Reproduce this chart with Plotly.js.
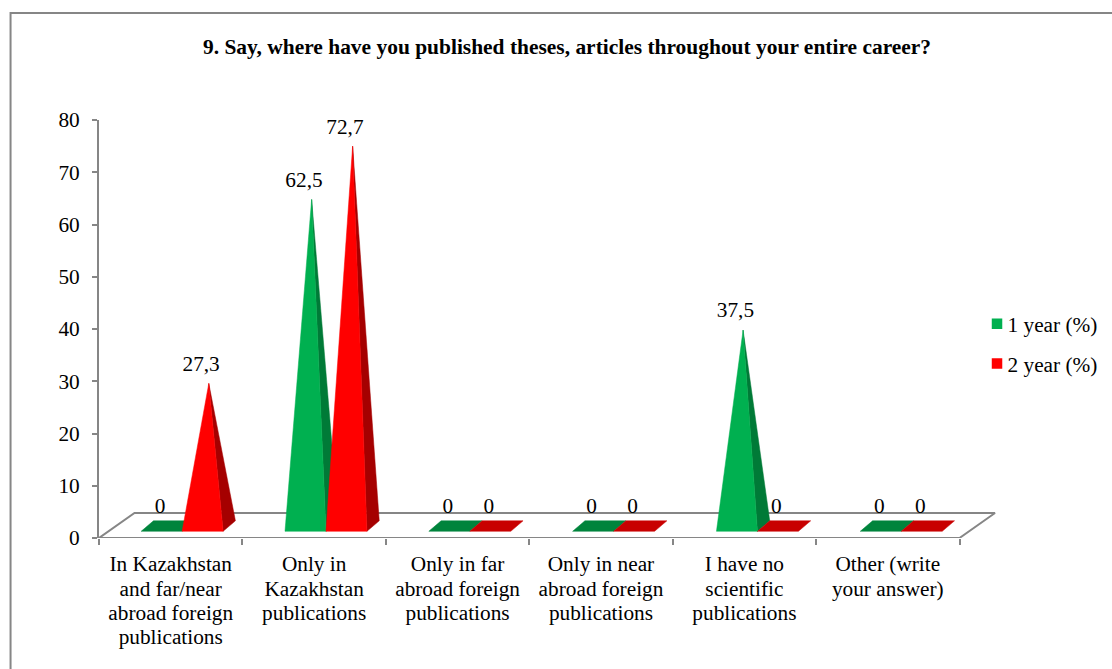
<!DOCTYPE html>
<html><head><meta charset="utf-8">
<script src="https://cdn.plot.ly/plotly-3.0.1.min.js"></script>
<style>html,body{margin:0;padding:0;background:#fff}#c{width:1112px;height:669px}</style>
</head><body><div id="c"></div>
<script>
const titleText = "9. Say, where have you published theses, articles throughout your entire career?";
const categories = ["In Kazakhstan<br>and far/near<br>abroad foreign<br>publications","Only in<br>Kazakhstan<br>publications","Only in far<br>abroad foreign<br>publications","Only in near<br>abroad foreign<br>publications","I have no<br>scientific<br>publications","Other (write<br>your answer)"];
const year1 = [0, 62.5, 0, 0, 37.5, 0];
const year2 = [27.3, 72.7, 0, 0, 0, 0];
const seriesNames = ["1 year (%)", "2 year (%)"];
const yTicks = [0,10,20,30,40,50,60,70,80];
const AXIS = "#868686", FONT = "Liberation Serif", FS = 21.3;
// pixel scale of the plot: one category and one y unit
const UX = 143.5, UY = 5.225, L = 98.5, T = 120, B = 538, R = 1000;
const sx = p => p/UX, sy = p => p/UY;
const W = R-L;
const paperX = px => (px-L)/W, paperY = py => (B-py)/(B-T);
const groupStep = sx(143.9), groupOff = sx(42.2), bw = sx(41), frontY = sy(6.7), bdx = sx(12.3), bdy = sy(10.5);
const floorDX = sx(35.5), floorDY = sy(25);

const palette = [
  {front:"#00B050", side:"#007A37", flat:"#00843C"},
  {front:"#FF0000", side:"#A50000", flat:"#C80000"}
];
const traces = [];
const n = categories.length;
// floor
traces.push({x:[0,n,n+floorDX,floorDX,0], y:[0,0,floorDY,floorDY,0], mode:"lines",
  line:{color:AXIS,width:2}, hoverinfo:"skip", showlegend:false, cliponaxis:false});
function poly(xs,ys,color){
  traces.push({x:xs.concat(xs[0]), y:ys.concat(ys[0]), mode:"lines", fill:"toself", fillcolor:color,
    line:{color:color,width:0.5}, hoverinfo:"skip", showlegend:false, cliponaxis:false});
}
[year1,year2].forEach((vals,s)=>{
  vals.forEach((v,i)=>{
    const x0=i*groupStep+groupOff+s*bw, x1=x0+bw;
    const c=palette[s];
    if(v===0){
      poly([x0,x1,x1+bdx,x0+bdx],[frontY,frontY,frontY+bdy,frontY+bdy],c.flat);
    }else{
      const ax=(x0+x1+bdx)/2, ay=v+frontY+bdy/2;
      poly([x1,x1+bdx,ax],[frontY,frontY+bdy,ay],c.side);
      poly([x0,x1,ax],[frontY,frontY,ay],c.front);
    }
  });
});
// value labels
[year1,year2].forEach((vals,s)=>{
  traces.push({
    x:vals.map((v,i)=>i*groupStep+groupOff+s*bw+bw/2-sx(1.5)),
    y:vals.map(v=>v+frontY+bdy/2+sy(18)),
    text:vals.map(v=>String(v).replace(".",",")),
    mode:"text", textposition:"middle center",
    textfont:{family:FONT,size:FS,color:"#000"},
    hoverinfo:"skip", showlegend:false, cliponaxis:false
  });
});
// legend entries
seriesNames.forEach((nm,s)=>{
  traces.push({x:[null],y:[null],mode:"markers",name:nm,legendgroup:"g"+s,
    marker:{symbol:"square",size:10.5,color:palette[s].front}});
});
const layout = {
  width:1112,height:669,
  margin:{l:L,r:1112-R,t:T,b:669-B,pad:0,autoexpand:false},
  paper_bgcolor:"#fff",plot_bgcolor:"rgba(0,0,0,0)",
  title:{text:"<b>"+titleText+"</b>",font:{family:FONT,size:21.45,color:"#000"},x:567/1112,xref:"container",xanchor:"center",y:1-46/669,yref:"container",yanchor:"middle"},
  xaxis:{range:[0,W/UX],showgrid:false,zeroline:false,showline:false,ticks:"",
    tickmode:"array",tickvals:categories.map((c,i)=>i+0.5),ticktext:categories,tickangle:0,
    tickfont:{family:FONT,size:FS,color:"#000"},ticklabelstandoff:11,
    minor:{tickmode:"array",tickvals:categories.map((c,i)=>i).concat(n),ticks:"outside",ticklen:6,tickwidth:2,tickcolor:AXIS,showgrid:false}},
  yaxis:{range:[0,80],showgrid:false,zeroline:false,showline:true,linecolor:AXIS,linewidth:2,
    ticks:"outside",ticklen:5,tickwidth:2,tickcolor:AXIS,tickmode:"array",tickvals:yTicks,
    tickfont:{family:FONT,size:FS,color:"#000"},ticklabelstandoff:8},
  legend:{x:paperX(967.5),y:paperY(344),xanchor:"left",yanchor:"middle",font:{family:FONT,size:FS,color:"#000"},
    tracegroupgap:9,bgcolor:"rgba(0,0,0,0)",itemclick:false,itemdoubleclick:false},
  showlegend:true,
  shapes:[{type:"path",xref:"paper",yref:"paper",
    path:`M ${paperX(10)} ${paperY(680)} L ${paperX(10)} ${paperY(13)} L ${paperX(1120)} ${paperY(13)}`,
    line:{color:"#868686",width:2}}]
};
Plotly.newPlot("c",traces,layout,{displayModeBar:false,staticPlot:true}).then(()=>{
  document.querySelectorAll("#c .legend .legendpoints path").forEach(p=>{
    p.setAttribute("transform","translate(29.5,0)");
  });
  // tighter line spacing in the multi-line category labels
  document.querySelectorAll("#c .xtick text").forEach(t=>{
    t.querySelectorAll("tspan.line").forEach((sp,i)=>sp.setAttribute("dy",(i*1.145)+"em"));
  });
});
</script></body></html>
